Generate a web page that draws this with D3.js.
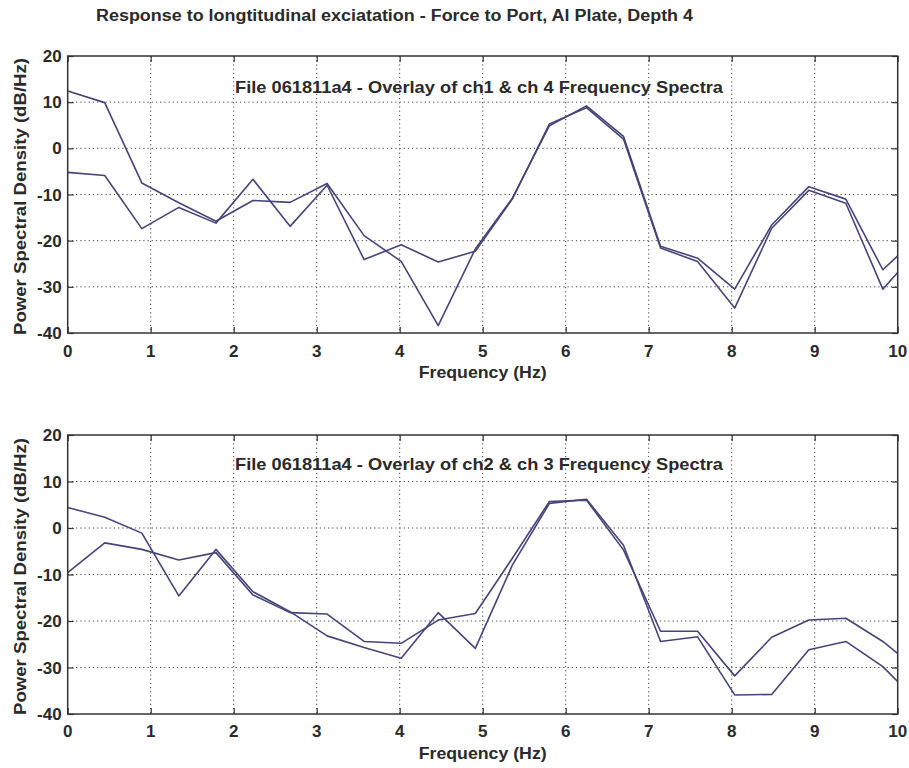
<!DOCTYPE html>
<html><head><meta charset="utf-8">
<script src="https://cdn.jsdelivr.net/npm/d3@7"></script>
<style>body{margin:0;background:#fff}svg{display:block}text{font-family:"Liberation Sans",Arial,sans-serif;font-weight:bold;fill:#2a2a2a}</style>
</head><body>
<svg id="c" width="909" height="768"></svg>
<script>
const mainTitle = "Response to longtitudinal exciatation - Force to Port, Al Plate, Depth 4";
const panelTitles = ["File 061811a4 - Overlay of ch1 & ch 4 Frequency Spectra", "File 061811a4 - Overlay of ch2 & ch 3 Frequency Spectra"];
const xLabel = "Frequency (Hz)";
const yLabel = "Power Spectral Density (dB/Hz)";
const xTicks = [0,1,2,3,4,5,6,7,8,9,10];
const yTicks = [-40,-30,-20,-10,0,10,20];
const freq = [0,0.446,0.893,1.339,1.786,2.232,2.679,3.125,3.571,4.018,4.464,4.911,5.357,5.804,6.250,6.696,7.143,7.589,8.036,8.482,8.929,9.375,9.821,10.268];
const ch1 = [12.4,9.9,-7.5,-11.8,-15.8,-11.3,-11.7,-7.6,-18.9,-24.5,-38.4,-21.8,-10.8,4.9,9.2,2.6,-21.2,-23.8,-30.5,-16.6,-8.3,-11.0,-26.3,-18.8];
const ch4 = [-5.2,-5.9,-17.4,-12.8,-16.2,-6.7,-16.9,-8.0,-24.1,-20.9,-24.6,-22.3,-11.0,5.3,8.8,2.0,-21.6,-24.5,-34.6,-17.3,-9.1,-11.9,-30.5,-21.5];
const ch2 = [4.4,2.3,-1.1,-14.6,-4.6,-13.7,-18.0,-23.2,-25.7,-28.0,-18.2,-25.9,-8.0,5.3,6.2,-3.7,-24.4,-23.4,-35.9,-35.8,-26.2,-24.4,-29.8,-37.8];
const ch3 = [-9.6,-3.2,-4.6,-6.9,-5.3,-14.4,-18.2,-18.5,-24.4,-24.8,-19.8,-18.4,-6.5,5.7,6.0,-4.7,-22.2,-22.2,-31.8,-23.5,-19.8,-19.4,-24.4,-30.9];

const svg = d3.select("#c");
const lineColor = "#45457a";

svg.append("text").attr("x",96).attr("y",21).attr("font-size",16)
  .attr("textLength",597).attr("lengthAdjust","spacingAndGlyphs").text(mainTitle);

const panels = [
  {top:56, bottom:333, series:[ch1,ch4], title:panelTitles[0], tickY:357, labelY:378, titleY:93},
  {top:435, bottom:714, series:[ch2,ch3], title:panelTitles[1], tickY:737, labelY:759, titleY:470}
];
const left = 67.7, right = 897.7;

panels.forEach((p,i)=>{
  const x = d3.scaleLinear().domain([0,10]).range([left,right]);
  const y = d3.scaleLinear().domain([-40,20]).range([p.bottom,p.top]);
  const g = svg.append("g");
  const cid = "clip"+i;
  g.append("clipPath").attr("id",cid).append("rect")
    .attr("x",left).attr("y",p.top).attr("width",right-left).attr("height",p.bottom-p.top);
  // grid
  g.append("g").selectAll("line").data(xTicks.slice(1,-1)).join("line")
    .attr("x1",d=>x(d)).attr("x2",d=>x(d)).attr("y1",p.top).attr("y2",p.bottom)
    .attr("stroke","#444").attr("stroke-width",1).attr("stroke-dasharray","1.2,3");
  g.append("g").selectAll("line").data(yTicks.slice(1,-1)).join("line")
    .attr("y1",d=>y(d)).attr("y2",d=>y(d)).attr("x1",left).attr("x2",right)
    .attr("stroke","#444").attr("stroke-width",1).attr("stroke-dasharray","1.2,3");
  // axes
  const ax = g.append("g").attr("transform",`translate(0,${p.bottom})`)
    .call(d3.axisBottom(x).tickValues(xTicks).tickSize(-6).tickFormat(""));
  ax.select(".domain").remove();
  const axT = g.append("g").attr("transform",`translate(0,${p.top})`)
    .call(d3.axisTop(x).tickValues(xTicks).tickSize(-6).tickFormat(""));
  axT.select(".domain").remove();
  const ay = g.append("g").attr("transform",`translate(${left},0)`)
    .call(d3.axisLeft(y).tickValues(yTicks).tickSize(-6).tickFormat(""));
  ay.select(".domain").remove();
  const ayR = g.append("g").attr("transform",`translate(${right},0)`)
    .call(d3.axisRight(y).tickValues(yTicks).tickSize(-6).tickFormat(""));
  ayR.select(".domain").remove();
  g.selectAll(".tick line").attr("stroke","#333").attr("stroke-width",1.2);
  // tick labels
  g.append("g").selectAll("text").data(xTicks).join("text")
    .attr("x",d=>x(d)).attr("y",p.tickY).attr("text-anchor","middle").attr("font-size",17).text(d=>d);
  g.append("g").selectAll("text").data(yTicks).join("text")
    .attr("x",left-6).attr("y",d=>y(d)+6).attr("text-anchor","end").attr("font-size",17).text(d=>d);
  // lines
  const line = d3.line().x((d,j)=>x(freq[j])).y(d=>y(d));
  g.append("g").attr("clip-path",`url(#${cid})`).selectAll("path").data(p.series).join("path")
    .attr("d",line).attr("fill","none").attr("stroke",lineColor).attr("stroke-width",1.6).attr("stroke-linejoin","round");
  // frame
  g.append("rect").attr("x",left).attr("y",p.top).attr("width",right-left).attr("height",p.bottom-p.top)
    .attr("fill","none").attr("stroke","#333").attr("stroke-width",1.5);
  // labels
  g.append("text").attr("x",235).attr("y",p.titleY).attr("font-size",16.5)
    .attr("textLength",488).attr("lengthAdjust","spacingAndGlyphs").text(p.title);
  g.append("text").attr("x",(left+right)/2).attr("y",p.labelY).attr("text-anchor","middle").attr("font-size",16.5)
    .attr("textLength",128).attr("lengthAdjust","spacingAndGlyphs").text(xLabel);
  g.append("text").attr("transform",`translate(26,${(p.top+p.bottom)/2+2}) rotate(-90)`).attr("text-anchor","middle")
    .attr("font-size",16.5).attr("textLength",277).attr("lengthAdjust","spacingAndGlyphs").text(yLabel);
});
</script>
</body></html>
